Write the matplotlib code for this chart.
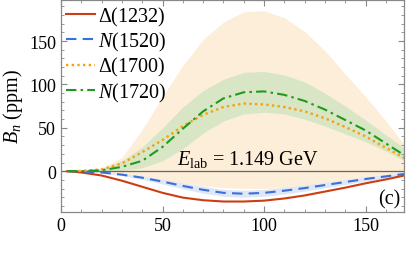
import matplotlib
matplotlib.use("Agg")
import matplotlib.pyplot as plt

plt.rcParams["font.family"] = ["Liberation Serif", "DejaVu Serif"]
plt.rcParams["mathtext.fontset"] = "custom"
plt.rcParams["mathtext.rm"] = "Liberation Serif"
plt.rcParams["mathtext.it"] = "Liberation Serif:italic"

# angle grid
theta = [3, 10, 20, 30, 40, 50, 60, 70, 80, 90, 100, 110, 120, 130, 140, 150, 160, 170]

# Delta(1232)
d1232 = [0, -1.5, -5, -11, -18, -25, -30.5, -33.5, -35, -35, -34, -31.5, -28, -23.5, -19, -14, -9.5, -4.5]

# N(1520) and its band
n1520 = [0, -0.3, -1.5, -4, -7.5, -12, -17, -21.5, -25, -26, -25, -22.5, -19.5, -16, -12.5, -9, -6, -3]
n1520_lo = [0, -0.5, -2.1, -5.2, -9.5, -14.8, -20.4, -25.3, -29, -30, -29, -26.3, -23, -19.2, -15.3, -11.4, -8, -4.6]
n1520_hi = [0, -0.1, -0.9, -2.8, -5.5, -9.2, -13.6, -17.7, -21, -22, -21, -18.7, -16, -12.8, -9.7, -6.6, -4, -1.4]

# Delta(1700) and its band
d1700 = [0, 0.3, 2, 9, 22, 36, 52, 65, 74, 78, 77, 74, 69, 61, 51, 40, 27, 14]
d1700_lo = [0, 0, -1, -3, -6, -10, -14, -17, -19, -20, -20, -19, -17, -14, -11, -8, -5, -2]
d1700_hi = [0, 0.5, 4, 16, 48, 86, 122, 152, 172, 184, 185, 177, 161, 139, 112, 86, 58, 28]

# N(1720) and its band
n1720 = [0, 0, 1, 5, 12, 28, 49, 69, 84, 91, 92, 88, 81, 71, 59, 47, 32, 17]
n1720_lo = [0, 0, 0, 1, 4, 12, 26, 44, 58, 66, 68, 66, 60, 52, 43, 34, 23, 11]
n1720_hi = [0, 0.5, 3, 12, 28, 50, 74, 93, 106, 114, 115, 111, 103, 90, 75, 59, 42, 25]

fig = plt.figure(figsize=(4.07, 2.55), dpi=100)
ax = fig.add_axes([0.150, 0.165, 0.843, 0.833])

# bands
ax.fill_between(theta, d1700_lo, d1700_hi, color="#fdeed9", lw=0)
ax.fill_between(theta, n1720_lo, n1720_hi, color="#d8e6c5", lw=0)
ax.fill_between(theta, n1520_lo, n1520_hi, color="#dfe6f6", lw=0)

ax.axhline(0, color="#666666", lw=0.9)

# curves
ax.plot(theta, d1232, color="#cc3e12", lw=1.5, label=r"$\Delta$(1232)")
ax.plot(theta, n1520, color="#3b6fd9", lw=1.5, dashes=(5, 3), label=r"$N$(1520)")
ax.plot(theta, d1700, color="#f7a00c", lw=1.7, dashes=(1.0, 1.4), label=r"$\Delta$(1700)")
ax.plot(theta, n1720, color="#1f9a1f", lw=1.5, dashes=(5, 2, 1.2, 2), label=r"$N$(1720)")

ax.set_xlim(0, 169)
ax.set_ylim(-47, 198)
ax.set_xticks([0, 50, 100, 150])
ax.set_yticks([0, 50, 100, 150])
ax.set_xticks(range(0, 170, 10), minor=True)
ax.set_yticks(range(-40, 200, 10), minor=True)
ax.tick_params(which="both", direction="in", top=True, right=True, colors="#888888",
               labelcolor="black", labelsize=13)
ax.tick_params(which="major", length=4.5, width=0.8)
ax.tick_params(which="minor", length=2.2, width=0.6)
for s in ax.spines.values():
    s.set_color("#888888")
    s.set_linewidth(0.9)

ax.set_ylabel(r"$B_n$ (ppm)", fontsize=14.5, labelpad=3)

ax.text(57, 2, r"$E_{\rm lab}$ = 1.149 GeV", fontsize=14.5, va="bottom")
ax.text(167, -43, "(c)", fontsize=14.5, ha="right", va="bottom")

leg = ax.legend(loc="upper left", bbox_to_anchor=(0.0, 1.0), frameon=False, fontsize=14.5,
                handlelength=1.45, handletextpad=0.15, labelspacing=0.12, borderaxespad=0.1,
                borderpad=0.15)

fig.savefig("out.png", dpi=100)
